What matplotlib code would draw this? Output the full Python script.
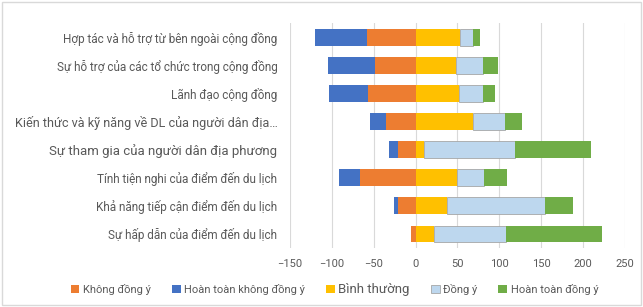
import numpy as np
import matplotlib
matplotlib.use('Agg')
import matplotlib.pyplot as plt

plt.rcParams['font.family'] = ['Roboto', 'DejaVu Sans']

categories = [
    'Hợp tác và hỗ trợ từ bên ngoài cộng đồng',
    'Sự hỗ trợ của các tổ chức trong cộng đồng',
    'Lãnh đạo cộng đồng',
    'Kiến thức và kỹ năng về DL của người dân địa…',
    'Sự tham gia của người dân địa phương',
    'Tính tiện nghi của điểm đến du lịch',
    'Khả năng tiếp cận điểm đến du lịch',
    'Sự hấp dẫn của điểm đến du lịch',
]
khong_dong_y = [58, 49, 57, 35, 21, 66, 21, 6]
hoan_toan_khong = [62, 56, 46, 20, 11, 26, 5, 0]
binh_thuong = [53, 48, 52, 69, 10, 49, 37, 22]
dong_y = [16, 32, 29, 38, 109, 33, 117, 86]
hoan_toan_dong_y = [8, 18, 14, 20, 90, 27, 34, 114]
xticks = [-150, -100, -50, 0, 50, 100, 150, 200, 250]

fig = plt.figure(figsize=(6.43, 3.07), dpi=100)
fig.patches.append(plt.Rectangle((0.003, 0.006), 0.994, 0.988, transform=fig.transFigure,
                                 fill=False, edgecolor='#d9d9d9', linewidth=1))
ax = fig.add_axes([0.451, 0.192, 0.521, 0.733])

y = np.arange(len(categories))
h = 0.6
kd = -np.array(khong_dong_y)
htk = -np.array(hoan_toan_khong)
bt = np.array(binh_thuong)
dy = np.array(dong_y)
htd = np.array(hoan_toan_dong_y)

b1 = ax.barh(y, kd, height=h, color='#ED7D31', label='Không đồng ý', zorder=3)
b2 = ax.barh(y, htk, left=kd, height=h, color='#4472C4', label='Hoàn toàn không đồng ý', zorder=3)
b3 = ax.barh(y, bt, height=h, color='#FFC000', label='Bình thường', zorder=3)
b4 = ax.barh(y, dy, left=bt, height=h, color='#BDD7EE', edgecolor='#a6a6a6',
             linewidth=0.6, label='Đồng ý', zorder=3)
b5 = ax.barh(y, htd, left=bt + dy, height=h, color='#70AD47', label='Hoàn toàn đồng ý', zorder=3)

ax.set_xlim(-150, 250)
ax.set_xticks(xticks)
ax.set_ylim(len(categories) - 0.5, -0.5)
ax.set_yticks(y)
ax.set_yticklabels(categories)
label_sizes = [8.5, 8.5, 8.5, 9.1, 9.5, 8.5, 8.5, 8.5]
for t, fs in zip(ax.get_yticklabels(), label_sizes):
    t.set_fontsize(fs)
    t.set_color('#595959')
ax.tick_params(axis='x', labelsize=8, labelcolor='#595959', length=0, pad=8)
ax.tick_params(axis='y', length=0, pad=9)
ax.grid(axis='x', color='#d9d9d9', linewidth=0.8, zorder=0)
for s in ax.spines.values():
    s.set_visible(False)

leg = fig.legend(handles=[b1, b2, b3, b4, b5], loc='center', bbox_to_anchor=(0.52, 0.058),
                 ncol=5, frameon=False, fontsize=8, handlelength=0.8, handleheight=0.8,
                 handletextpad=0.3, columnspacing=1.9)
for t in leg.get_texts():
    t.set_color('#595959')
leg.get_texts()[2].set_fontsize(9.5)

plt.savefig('out.png', dpi=100)
plt.close()
